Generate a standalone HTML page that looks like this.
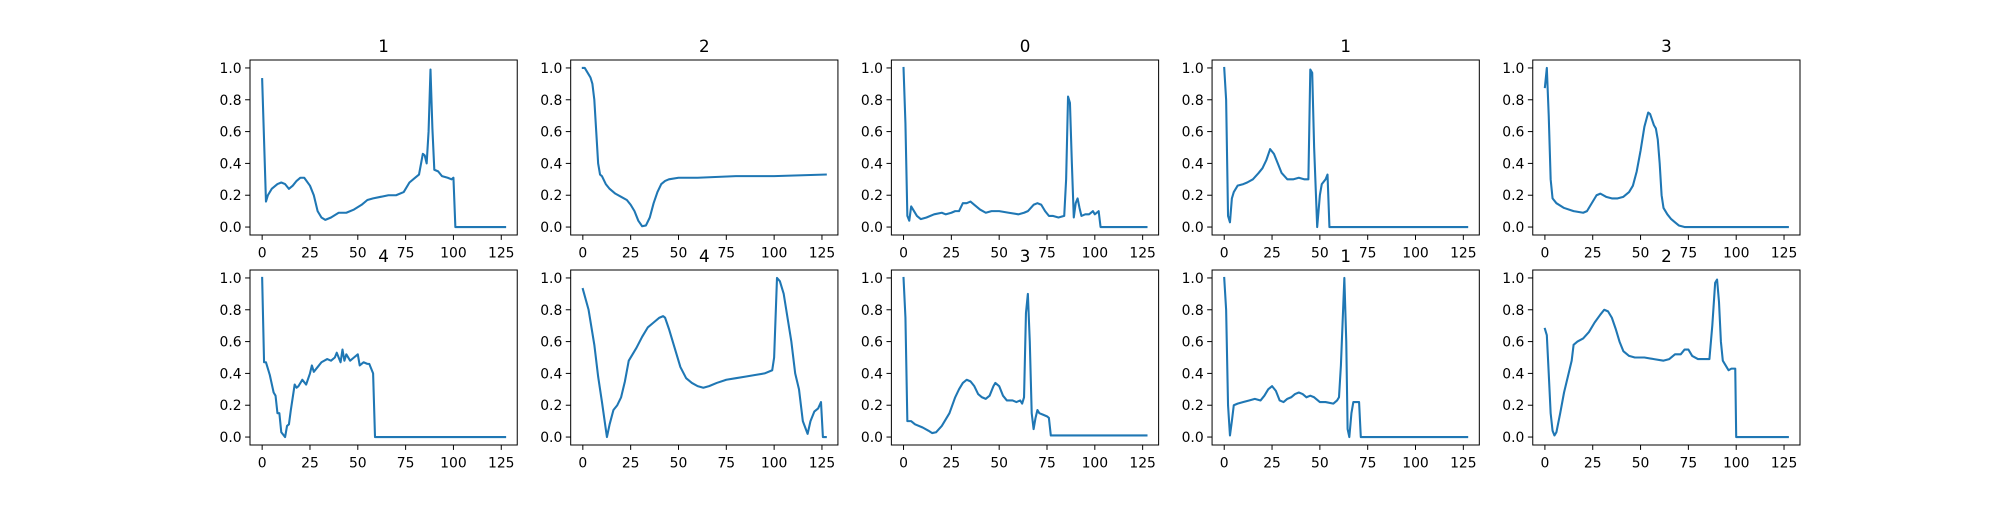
<!DOCTYPE html>
<html><head><meta charset="utf-8"><style>
html,body{margin:0;padding:0;background:#fff;}
svg text{font-family:"DejaVu Sans","Liberation Sans",sans-serif;fill:#000;}
</style></head><body>
<svg id="fig" width="2000" height="500" xmlns="http://www.w3.org/2000/svg"></svg>
<script>
const titles = ["1","2","0","1","3","4","4","3","1","2"];
const xTicks = [0,25,50,75,100,125];
const yTicks = [0,0.2,0.4,0.6,0.8,1.0];
const yTickLabels = ["0.0","0.2","0.4","0.6","0.8","1.0"];
const s0x=[0,2,3,5,8,10,12,14,16,18,20,22,25,27,29,31,33,36,40,44,48,52,55,58,62,66,70,74,77,80,82,84,85,86,87,88,89,90,92,94,97,99,100,101,127];
const s0y=[.93,.16,.2,.24,.27,.28,.27,.24,.26,.29,.31,.31,.26,.2,.1,.06,.045,.06,.09,.09,.11,.14,.17,.18,.19,.2,.2,.22,.28,.31,.33,.46,.45,.4,.6,.99,.62,.36,.35,.32,.31,.3,.31,0,0];
const s1x=[0,1,3,4,5,6,7,8,9,10,12,14,17,20,23,25,27,29,31,33,35,37,39,41,43,45,50,60,80,100,127];
const s1y=[1,1,.96,.94,.9,.8,.6,.4,.33,.32,.27,.24,.21,.19,.17,.14,.1,.04,.005,.01,.06,.15,.22,.27,.29,.3,.31,.31,.32,.32,.33];
const s2x=[0,1,2,3,4,5,7,9,12,16,20,22,25,27,29,31,33,35,37,40,43,46,50,55,60,63,65,68,70,72,74,76,78,81,84,85,86,87,88,89,90,91,92,93,95,97,99,100,102,103,127];
const s2y=[1,.65,.07,.04,.13,.11,.07,.05,.06,.08,.09,.08,.09,.1,.1,.15,.15,.16,.14,.11,.09,.1,.1,.09,.08,.09,.1,.14,.15,.14,.1,.07,.07,.06,.07,.3,.82,.78,.4,.06,.15,.18,.12,.07,.08,.08,.1,.08,.1,0,0];
const s3x=[0,1,2,3,4,5,7,10,12,15,18,20,22,24,26,28,30,33,36,39,42,44,45,46,47,48.6,50,51,53,54,55,127];
const s3y=[1,.8,.07,.03,.18,.22,.26,.27,.28,.3,.34,.37,.42,.49,.46,.4,.34,.3,.3,.31,.3,.3,.99,.97,.5,0,.2,.27,.3,.33,0,0];
const s4x=[0,1,2,3,4,6,10,15,20,22,24,27,29,32,35,38,41,44,46,48,50,52,54,55,57,58,59,60,61,62,64,66,68,70,73,127];
const s4y=[.88,1,.7,.3,.18,.15,.12,.1,.09,.1,.14,.2,.21,.19,.18,.18,.19,.22,.26,.35,.48,.63,.72,.71,.64,.62,.55,.4,.2,.12,.08,.05,.03,.01,0,0];
const s5x=[0,1,2,4,6,7,8,9,10,12,13,14,15,17,18,19,21,23,25,26,27,29,31,34,36,38,39,41,42,43,44,46,48,49,50,51,53,55,56,57,58,59,127];
const s5y=[1,.47,.47,.39,.28,.26,.15,.15,.03,0,.07,.08,.17,.33,.31,.32,.36,.33,.4,.45,.41,.44,.47,.49,.48,.5,.53,.47,.55,.48,.52,.48,.5,.51,.52,.45,.47,.46,.46,.43,.4,0,0];
const s6x=[0,3,6,8,10,12,12.6,14,16,18,20,22,24,26,28,31,34,37,40,42,43,45,48,51,54,57,60,63,66,70,75,80,85,90,95,99,100,101.5,103,105,107,109,111,113,115,117.5,119,121,123,124.5,125.5,127];
const s6y=[.93,.8,.58,.38,.22,.05,0,.08,.17,.2,.25,.35,.48,.52,.56,.63,.69,.72,.75,.76,.75,.68,.56,.44,.37,.34,.32,.31,.32,.34,.36,.37,.38,.39,.4,.42,.5,1,.98,.9,.75,.6,.4,.3,.1,.02,.1,.16,.18,.22,0,0];
const s7x=[0,1,2,4,6,10,13,15,17,20,24,27,29,31,33,35,37,39,41,43,45,47,48,50,52,54,57,59,61,62,63,64,65,66,67,68,69,70,71,73,75,76,77,127];
const s7y=[1,.75,.1,.1,.08,.06,.04,.025,.03,.07,.15,.25,.3,.34,.36,.35,.32,.27,.25,.24,.26,.32,.34,.32,.26,.23,.23,.22,.23,.21,.25,.78,.9,.6,.15,.05,.12,.17,.15,.14,.13,.12,.01,.01];
const s8x=[0,1,2,3,4,5,7,10,13,16,19,21,23,25,27,29,31,33,35,37,39,41,43,45,47,50,53,57,59,60,61,62.8,63.8,64.5,65.4,66.5,67.5,70.5,71.4,127];
const s8y=[1,.8,.2,.01,.1,.2,.21,.22,.23,.24,.23,.26,.3,.32,.29,.23,.22,.24,.25,.27,.28,.27,.25,.26,.25,.22,.22,.21,.23,.25,.45,1,.6,.05,0,.15,.22,.22,0,0];
const s9x=[0,1,2,3,4,5,6,8,10,12,14,15,17,20,23,26,29,31,33,35,37,39,41,44,47,52,57,62,65,68,71,73,75,77,80,86,87.5,89,90,91,92,93,95,96,97.5,99.5,100,127];
const s9y=[.68,.64,.4,.15,.04,.01,.03,.15,.28,.38,.48,.58,.6,.62,.66,.72,.77,.8,.79,.75,.68,.6,.54,.51,.5,.5,.49,.48,.49,.52,.52,.55,.55,.51,.49,.49,.7,.97,.99,.85,.6,.48,.44,.42,.43,.43,0,0];
const seriesX=[s0x,s1x,s2x,s3x,s4x,s5x,s6x,s7x,s8x,s9x];
const seriesY=[s0y,s1y,s2y,s3y,s4y,s5y,s6y,s7y,s8y,s9y];

const NS="http://www.w3.org/2000/svg";
const svg=document.getElementById('fig');
function mk(tag,attrs,parent){const e=document.createElementNS(NS,tag);for(const k in attrs)e.setAttribute(k,attrs[k]);(parent||svg).appendChild(e);return e;}
const axW=267.24, gapW=53.45, axH=175, gapH=35, L=250, T=60;
const XMIN=-6.35, XMAX=133.35, YMIN=-0.05, YMAX=1.05;
for(let i=0;i<10;i++){
  const r=Math.floor(i/5), c=i%5;
  const x0=L+c*(axW+gapW), y0=T+r*(axH+gapH);
  const sx=v=>x0+(v-XMIN)/(XMAX-XMIN)*axW;
  const sy=v=>y0+axH-(v-YMIN)/(YMAX-YMIN)*axH;
  const g=mk('g',{});
  
  
  const t=mk('text',{x:x0+axW/2,y:y0-8,'text-anchor':'middle','font-size':'16.7'},g);
  t.textContent=titles[i];
  
  
  xTicks.forEach(v=>{
    const X=sx(v);
    mk('line',{x1:X,x2:X,y1:y0+axH,y2:y0+axH+4.9,stroke:'#000','stroke-width':1},g);
    const tl=mk('text',{x:X,y:y0+axH+22.5,'text-anchor':'middle','font-size':'13.9'},g);
    tl.textContent=v;
    
    
  });
  yTicks.forEach((v,k)=>{
    const Y=sy(v);
    mk('line',{x1:x0-4.9,x2:x0,y1:Y,y2:Y,stroke:'#000','stroke-width':1},g);
    const tl=mk('text',{x:x0-8.4,y:Y+5,'text-anchor':'end','font-size':'13.9'},g);
    tl.textContent=yTickLabels[k];
    
    
  });
  const xs=seriesX[i], ys=seriesY[i];
  const pts=xs.map((x,j)=>sx(x).toFixed(2)+','+sy(ys[j]).toFixed(2)).join(' ');
  const pl=mk('polyline',{points:pts,fill:'none',stroke:'#1f77b4','stroke-width':2.08,'stroke-linejoin':'round','stroke-linecap':'square'},g);
  
  
  const fr=mk('rect',{x:x0,y:y0,width:axW,height:axH,fill:'none',stroke:'#000','stroke-width':1},g);
  
  
}
</script>
</body></html>
